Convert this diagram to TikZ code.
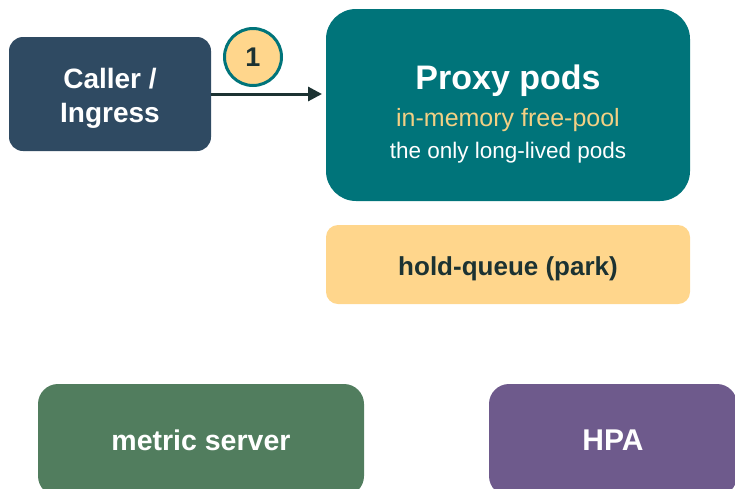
\documentclass[tikz,border=0pt]{standalone}
\usepackage{fontspec}
\setmainfont{Liberation Sans}
\usetikzlibrary{arrows.meta}
\definecolor{callerc}{HTML}{2F4A62}
\definecolor{proxyc}{HTML}{00747A}
\definecolor{holdc}{HTML}{FFD68C}
\definecolor{metricc}{HTML}{517D5E}
\definecolor{hpac}{HTML}{6E5A8C}
\definecolor{darkc}{HTML}{1C3232}
\definecolor{goldtxt}{HTML}{F3D084}
\tikzset{
  boxnode/.style={rectangle, inner sep=0pt, outer sep=0pt},
  txt/.style={inner sep=0pt, anchor=center},
}
\begin{document}
\begin{tikzpicture}[x=1pt,y=-1pt]
\useasboundingbox (0,0) rectangle (735,488);
\clip (0,0) rectangle (735,488);
% boxes
\node[boxnode, fill=callerc, rounded corners=14pt, minimum width=202pt, minimum height=114pt] (caller) at (110,94) {};
\node[txt, text=white, align=center, font=\bfseries\fontsize{28}{34}\selectfont] (ctext) at (110,98) {Caller /\\Ingress};
\node[boxnode, fill=proxyc, rounded corners=30pt, minimum width=364pt, minimum height=192pt] (proxy) at (508,105) {};
\node[txt, text=white, font=\bfseries\fontsize{34}{40}\selectfont] (ptitle) at (508,81) {Proxy pods};
\node[txt, text=goldtxt, font=\fontsize{25}{30}\selectfont] (pool) at (508,120) {in-memory free-pool};
\node[txt, text=white, font=\fontsize{22.5}{27}\selectfont] (only) at (508,153) {the only long-lived pods};
\node[boxnode, fill=holdc, rounded corners=12pt, minimum width=364pt, minimum height=79pt] (hold) at (508,264.5) {};
\node[txt, text=darkc, font=\bfseries\fontsize{26}{30}\selectfont] (htext) at (508,269) {hold-queue (park)};
\node[boxnode, fill=metricc, rounded corners=20pt, minimum width=326pt, minimum height=112pt,
  text=white, font=\bfseries\fontsize{28.5}{34}\selectfont] (metric) at (201,440) {metric server};
\node[boxnode, fill=hpac, rounded corners=20pt, minimum width=248pt, minimum height=112pt,
  text=white, font=\bfseries\fontsize{30}{36}\selectfont] (hpa) at (613,440) {HPA};
% connector
\draw[darkc, line width=3pt, -{Triangle[length=14pt,width=14pt]}, shorten >=4pt] (caller.east |- 0,94) -- (proxy.west |- 0,94);
\node[circle, draw=proxyc, line width=3pt, fill=holdc, minimum size=57pt, inner sep=0pt,
  text=darkc, font=\bfseries\fontsize{27}{30}\selectfont] (step1) at (253,57) {1};
\end{tikzpicture}
\end{document}
